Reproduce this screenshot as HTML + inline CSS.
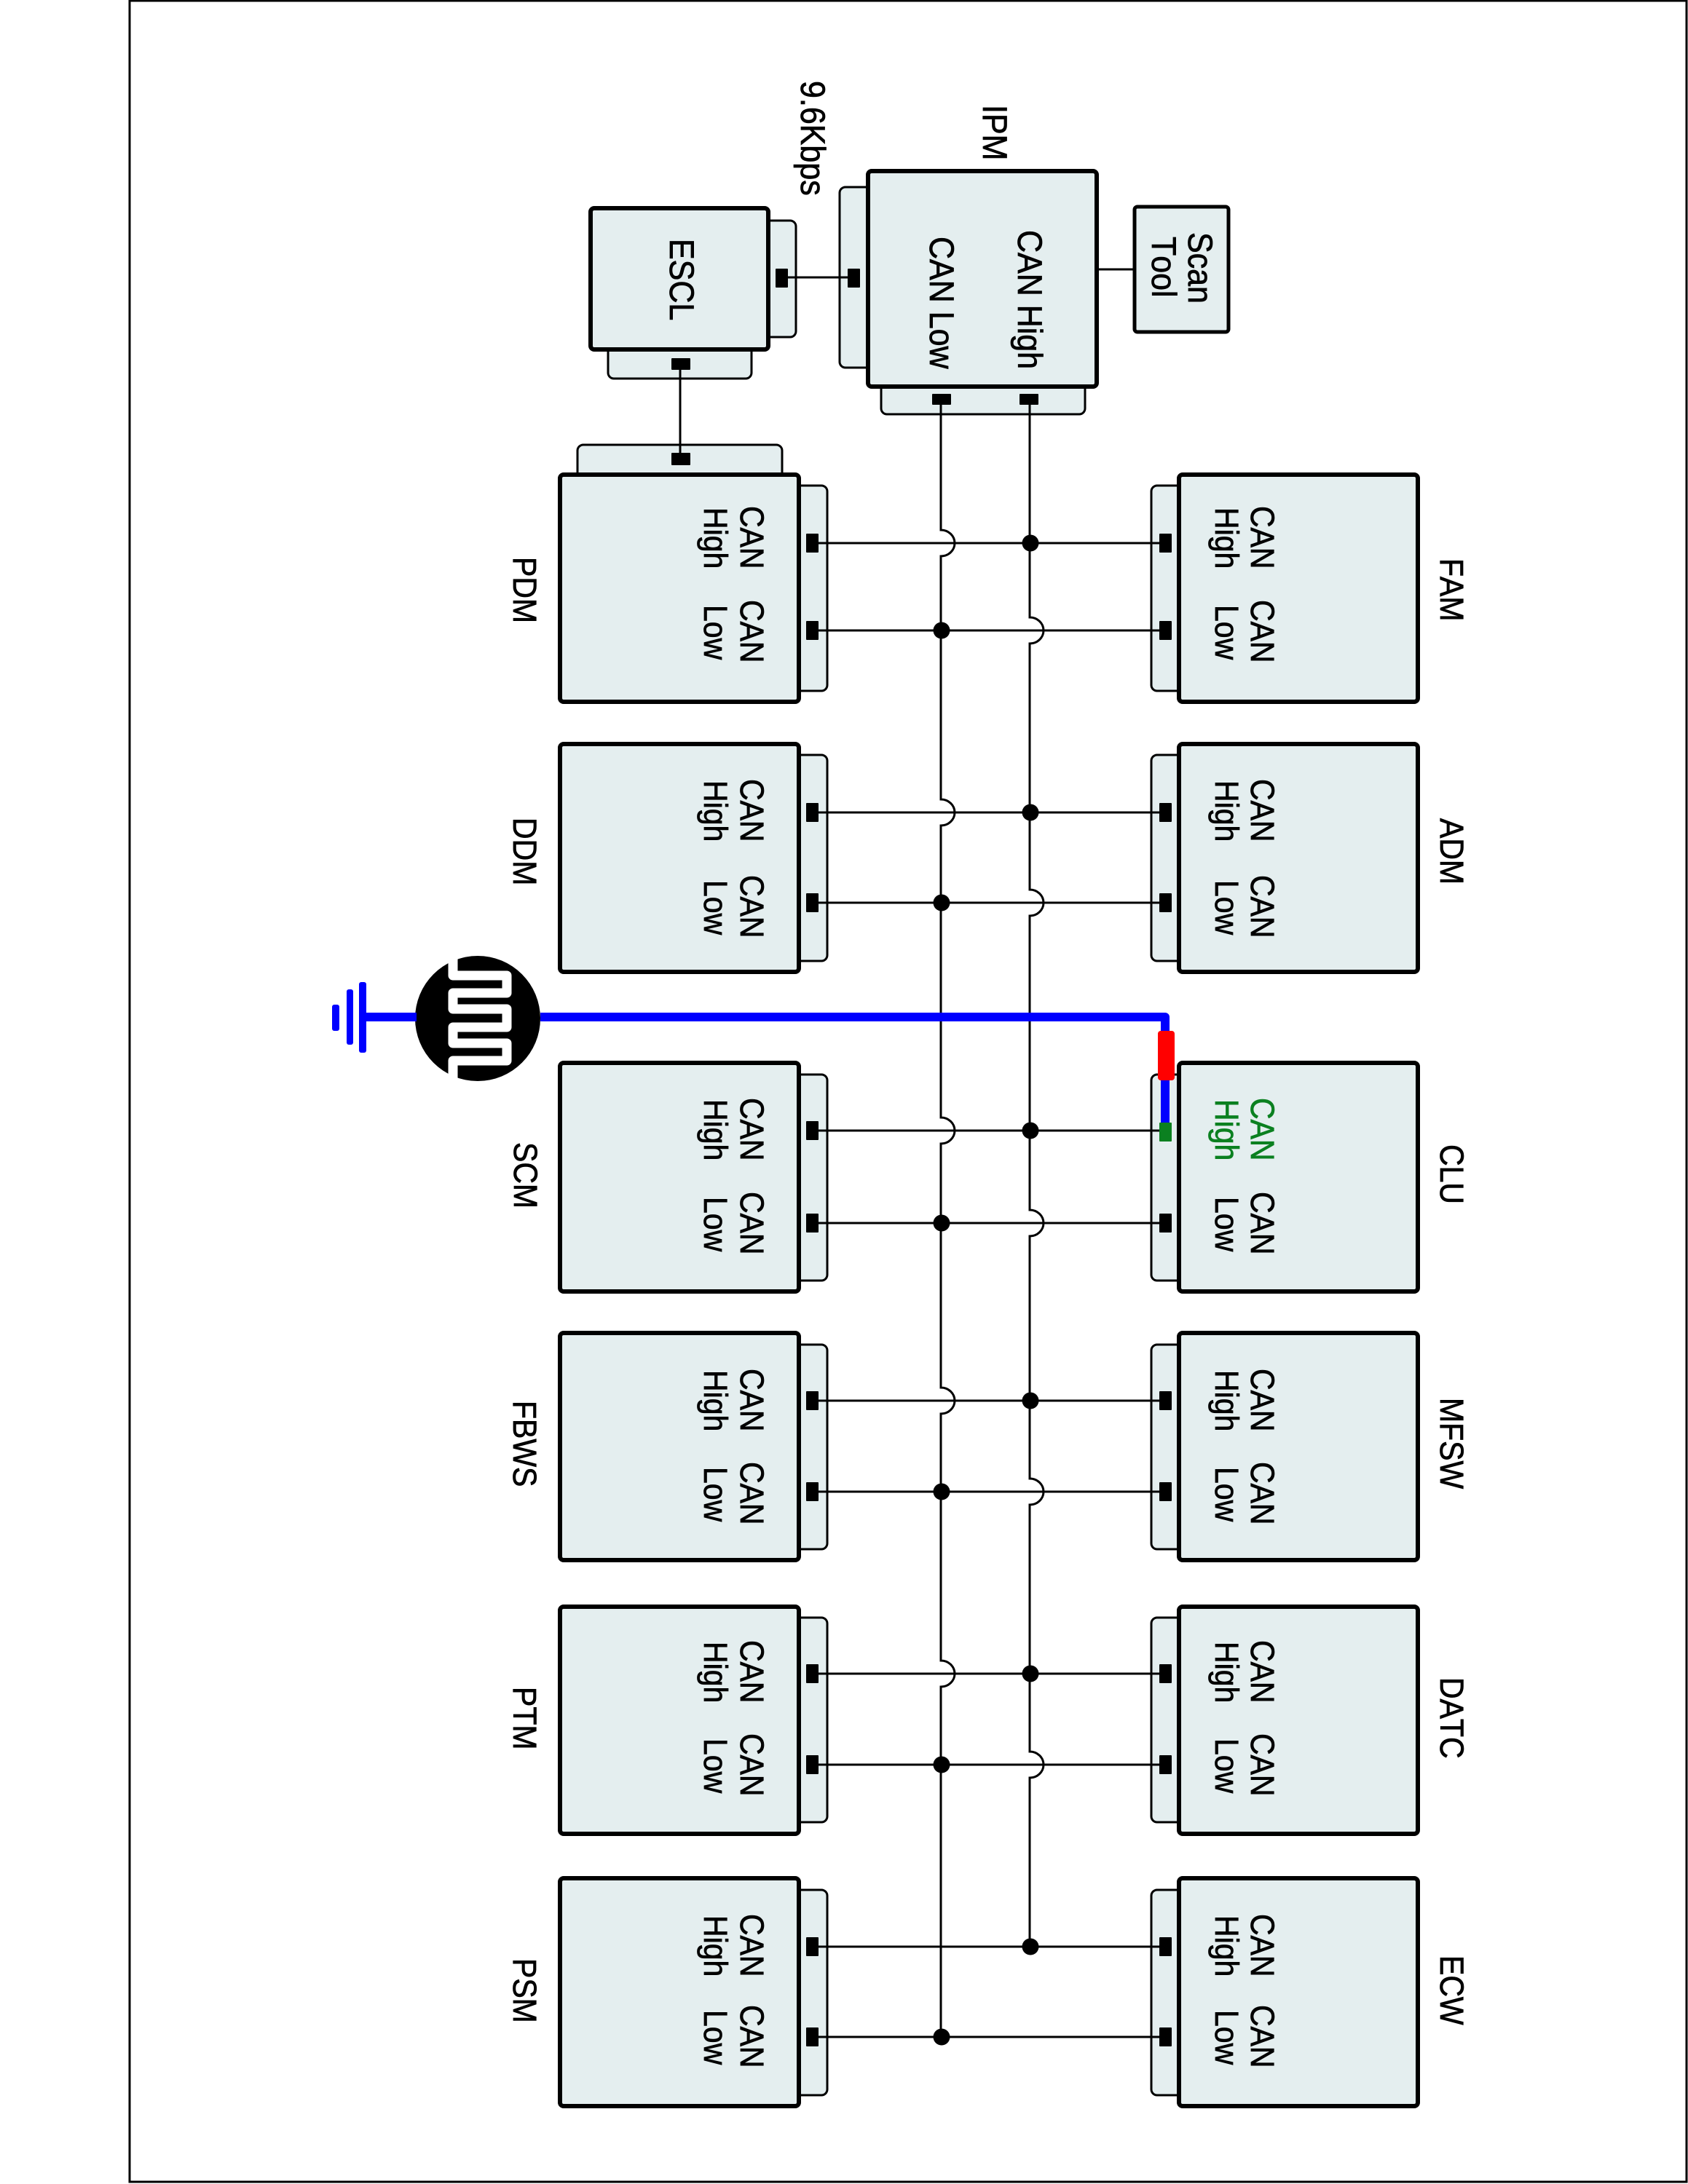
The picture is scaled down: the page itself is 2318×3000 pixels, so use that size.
<!DOCTYPE html>
<html><head><meta charset="utf-8"><title>CAN diagram</title>
<style>
html,body{margin:0;padding:0;background:#fff}
svg{display:block}
text{font-family:"Liberation Sans",sans-serif;font-size:41px;fill:#000;stroke:#000;stroke-width:.7;font-kerning:none}
.b{font-size:43px}
.m{fill:#e4eeef;stroke:#000;stroke-width:6}
.tab{fill:#e4eeef;stroke:#000;stroke-width:3}
.w{fill:none;stroke:#000;stroke-width:3}
.g{fill:#0b8020;stroke:#0b8020}
</style></head><body>
<svg width="2318" height="3000" viewBox="0 0 2318 3000" xmlns="http://www.w3.org/2000/svg">
<rect x="0" y="0" width="2318" height="3000" fill="#fff"/>
<rect x="178" y="1" width="2138" height="2996" fill="none" stroke="#000" stroke-width="3"/>

<!-- tabs -->
<rect class="tab" x="793" y="611" width="281" height="60" rx="8"/>
<rect class="tab" x="1030" y="303" width="63" height="160" rx="8"/>
<rect class="tab" x="835" y="440" width="197" height="80" rx="8"/>
<rect class="tab" x="1153" y="257" width="60" height="248" rx="8"/>
<rect class="tab" x="1210" y="500" width="280" height="69" rx="8"/>

<rect class="tab" x="1060" y="667" width="76" height="282" rx="8"/><rect class="tab" x="1581" y="667" width="76" height="282" rx="8"/>
<rect class="tab" x="1060" y="1037" width="76" height="283" rx="8"/><rect class="tab" x="1581" y="1037" width="76" height="283" rx="8"/>
<rect class="tab" x="1060" y="1476" width="76" height="283" rx="8"/><rect class="tab" x="1581" y="1476" width="76" height="283" rx="8"/>
<rect class="tab" x="1060" y="1847" width="76" height="281" rx="8"/><rect class="tab" x="1581" y="1847" width="76" height="281" rx="8"/>
<rect class="tab" x="1060" y="2222" width="76" height="281" rx="8"/><rect class="tab" x="1581" y="2222" width="76" height="281" rx="8"/>
<rect class="tab" x="1060" y="2596" width="76" height="282" rx="8"/><rect class="tab" x="1581" y="2596" width="76" height="282" rx="8"/>

<!-- modules -->
<rect class="m" x="811" y="286" width="244" height="194" rx="5"/>
<rect class="m" x="1192" y="235" width="314" height="296" rx="5"/>
<rect class="m" x="1558" y="284" width="129" height="172" rx="4" style="stroke-width:5"/>

<rect class="m" x="769" y="652" width="328" height="312" rx="5"/><rect class="m" x="1619" y="652" width="328" height="312" rx="5"/>
<rect class="m" x="769" y="1022" width="328" height="313" rx="5"/><rect class="m" x="1619" y="1022" width="328" height="313" rx="5"/>
<rect class="m" x="769" y="1460" width="328" height="314" rx="5"/><rect class="m" x="1619" y="1460" width="328" height="314" rx="5"/>
<rect class="m" x="769" y="1831" width="328" height="312" rx="5"/><rect class="m" x="1619" y="1831" width="328" height="312" rx="5"/>
<rect class="m" x="769" y="2207" width="328" height="312" rx="5"/><rect class="m" x="1619" y="2207" width="328" height="312" rx="5"/>
<rect class="m" x="769" y="2580" width="328" height="313" rx="5"/><rect class="m" x="1619" y="2580" width="328" height="313" rx="5"/>

<!-- buses -->
<path class="w" d="M1292 556V728A19 18 0 0 1 1292 764V1098A19 18 0 0 1 1292 1134V1535A19 18 0 0 1 1292 1571V1906A19 18 0 0 1 1292 1942V2281A19 18 0 0 1 1292 2317V2798"/>
<path class="w" d="M1414 556V848A19 18 0 0 1 1414 884V1222A19 18 0 0 1 1414 1258V1662A19 18 0 0 1 1414 1698V2031A19 18 0 0 1 1414 2067V2406A19 18 0 0 1 1414 2442V2674"/>

<!-- horizontal wires -->
<path class="w" d="M1124 746H1592M1124 866H1592M1124 1116H1592M1124 1240H1592M1124 1553H1592M1124 1680H1592M1124 1924H1592M1124 2049H1592M1124 2299H1592M1124 2424H1592M1124 2674H1592M1124 2798H1592"/>
<path class="w" d="M934 508V625M1081 381H1164M1506 370H1558"/>

<!-- connectors -->
<g fill="#000">
<rect x="1065" y="369" width="17" height="26" rx="1"/><rect x="1164" y="369" width="17" height="26" rx="1"/>
<rect x="922" y="492" width="26" height="16" rx="1"/><rect x="922" y="622" width="26" height="17" rx="1"/>
<rect x="1280" y="541" width="26" height="15" rx="1"/><rect x="1400" y="541" width="26" height="15" rx="1"/>
<rect x="1107" y="733" width="17" height="26" rx="1"/><rect x="1592" y="733" width="17" height="26" rx="1"/>
<rect x="1107" y="853" width="17" height="26" rx="1"/><rect x="1592" y="853" width="17" height="26" rx="1"/>
<rect x="1107" y="1103" width="17" height="26" rx="1"/><rect x="1592" y="1103" width="17" height="26" rx="1"/>
<rect x="1107" y="1227" width="17" height="26" rx="1"/><rect x="1592" y="1227" width="17" height="26" rx="1"/>
<rect x="1107" y="1540" width="17" height="26" rx="1"/>
<rect x="1107" y="1667" width="17" height="26" rx="1"/><rect x="1592" y="1667" width="17" height="26" rx="1"/>
<rect x="1107" y="1911" width="17" height="26" rx="1"/><rect x="1592" y="1911" width="17" height="26" rx="1"/>
<rect x="1107" y="2036" width="17" height="26" rx="1"/><rect x="1592" y="2036" width="17" height="26" rx="1"/>
<rect x="1107" y="2286" width="17" height="26" rx="1"/><rect x="1592" y="2286" width="17" height="26" rx="1"/>
<rect x="1107" y="2411" width="17" height="26" rx="1"/><rect x="1592" y="2411" width="17" height="26" rx="1"/>
<rect x="1107" y="2661" width="17" height="26" rx="1"/><rect x="1592" y="2661" width="17" height="26" rx="1"/>
<rect x="1107" y="2785" width="17" height="26" rx="1"/><rect x="1592" y="2785" width="17" height="26" rx="1"/>
<!-- junction dots -->
<circle cx="1415" cy="746" r="11.5"/><circle cx="1293" cy="866" r="11.5"/>
<circle cx="1415" cy="1116" r="11.5"/><circle cx="1293" cy="1240" r="11.5"/>
<circle cx="1415" cy="1553" r="11.5"/><circle cx="1293" cy="1680" r="11.5"/>
<circle cx="1415" cy="1924" r="11.5"/><circle cx="1293" cy="2049" r="11.5"/>
<circle cx="1415" cy="2299" r="11.5"/><circle cx="1293" cy="2424" r="11.5"/>
<circle cx="1415" cy="2674" r="11.5"/><circle cx="1293" cy="2798" r="11.5"/>
</g>

<!-- sensor and blue wire -->
<circle cx="656" cy="1399" r="86" fill="#000"/>
<path d="M622 1316V1340H696V1364H622V1386H696V1411H622V1433H696V1457H622V1484" fill="none" stroke="#fff" stroke-width="13" stroke-linejoin="round"/>
<path d="M742 1397H1600V1542" fill="none" stroke="#0000ff" stroke-width="12" stroke-linejoin="round"/>
<path d="M572 1397H498" fill="none" stroke="#0000ff" stroke-width="12"/>
<rect x="493" y="1349" width="10" height="97" rx="3" fill="#0000ff"/>
<rect x="476" y="1359" width="9" height="76" rx="3" fill="#0000ff"/>
<rect x="456" y="1380" width="10" height="36" rx="3" fill="#0000ff"/>
<rect x="1590" y="1416" width="23" height="68" rx="4" fill="#ff0000"/>
<rect x="1592" y="1542" width="17" height="26" rx="1" fill="#0b8020"/>

<g transform="translate(2 -2)">
<!-- top labels -->
<text class="b" transform="translate(1098 113) rotate(90) scale(1 1.11)">9.6Kbps</text>
<text class="b" transform="translate(1348 146) rotate(90) scale(1 1.11)">IPM</text>
<text class="b" transform="translate(918 330) rotate(90) scale(1 1.11)">ESCL</text>
<text class="b" transform="translate(1396 318) rotate(90) scale(1 1.11)">CAN High</text>
<text class="b" transform="translate(1275 327) rotate(90) scale(1 1.11)">CAN Low</text>
<text class="b" transform="translate(1630 321) rotate(90) scale(1 1.11)">Scan</text>
<text class="b" transform="translate(1580 327) rotate(90) scale(1 1.11)">Tool</text>

<!-- row 1 -->
<text transform="translate(703 767) rotate(90) scale(1 1.11)">PDM</text>
<text transform="translate(1976 769) rotate(90) scale(1 1.11)">FAM</text>
<text transform="translate(1015 697) rotate(90) scale(1 1.11)">CAN</text><text transform="translate(965 699) rotate(90) scale(1 1.11)">High</text>
<text transform="translate(1015 826) rotate(90) scale(1 1.11)">CAN</text><text transform="translate(965 833) rotate(90) scale(1 1.11)">Low</text>
<text transform="translate(1716 697) rotate(90) scale(1 1.11)">CAN</text><text transform="translate(1667 699) rotate(90) scale(1 1.11)">High</text>
<text transform="translate(1716 826) rotate(90) scale(1 1.11)">CAN</text><text transform="translate(1667 833) rotate(90) scale(1 1.11)">Low</text>

<!-- row 2 -->
<text transform="translate(703 1125) rotate(90) scale(1 1.11)">DDM</text>
<text transform="translate(1976 1126) rotate(90) scale(1 1.11)">ADM</text>
<text transform="translate(1015 1072) rotate(90) scale(1 1.11)">CAN</text><text transform="translate(965 1074) rotate(90) scale(1 1.11)">High</text>
<text transform="translate(1015 1204) rotate(90) scale(1 1.11)">CAN</text><text transform="translate(965 1211) rotate(90) scale(1 1.11)">Low</text>
<text transform="translate(1716 1072) rotate(90) scale(1 1.11)">CAN</text><text transform="translate(1667 1074) rotate(90) scale(1 1.11)">High</text>
<text transform="translate(1716 1204) rotate(90) scale(1 1.11)">CAN</text><text transform="translate(1667 1211) rotate(90) scale(1 1.11)">Low</text>

<!-- row 3 -->
<text transform="translate(704 1571) rotate(90) scale(1 1.11)">SCM</text>
<text transform="translate(1976 1574) rotate(90) scale(1 1.11)">CLU</text>
<text transform="translate(1015 1510) rotate(90) scale(1 1.11)">CAN</text><text transform="translate(965 1512) rotate(90) scale(1 1.11)">High</text>
<text transform="translate(1015 1639) rotate(90) scale(1 1.11)">CAN</text><text transform="translate(965 1646) rotate(90) scale(1 1.11)">Low</text>
<text class="g" transform="translate(1716 1510) rotate(90) scale(1 1.11)">CAN</text><text class="g" transform="translate(1667 1512) rotate(90) scale(1 1.11)">High</text>
<text transform="translate(1716 1639) rotate(90) scale(1 1.11)">CAN</text><text transform="translate(1667 1646) rotate(90) scale(1 1.11)">Low</text>

<!-- row 4 -->
<text transform="translate(703 1926) rotate(90) scale(1 1.11)">FBWS</text>
<text transform="translate(1976 1922) rotate(90) scale(1 1.11)">MFSW</text>
<text transform="translate(1015 1882) rotate(90) scale(1 1.11)">CAN</text><text transform="translate(965 1884) rotate(90) scale(1 1.11)">High</text>
<text transform="translate(1015 2010) rotate(90) scale(1 1.11)">CAN</text><text transform="translate(965 2017) rotate(90) scale(1 1.11)">Low</text>
<text transform="translate(1716 1882) rotate(90) scale(1 1.11)">CAN</text><text transform="translate(1667 1884) rotate(90) scale(1 1.11)">High</text>
<text transform="translate(1716 2010) rotate(90) scale(1 1.11)">CAN</text><text transform="translate(1667 2017) rotate(90) scale(1 1.11)">Low</text>

<!-- row 5 -->
<text transform="translate(703 2319) rotate(90) scale(1 1.11)">PTM</text>
<text transform="translate(1976 2306) rotate(90) scale(1 1.11)">DATC</text>
<text transform="translate(1015 2255) rotate(90) scale(1 1.11)">CAN</text><text transform="translate(965 2257) rotate(90) scale(1 1.11)">High</text>
<text transform="translate(1015 2383) rotate(90) scale(1 1.11)">CAN</text><text transform="translate(965 2390) rotate(90) scale(1 1.11)">Low</text>
<text transform="translate(1716 2255) rotate(90) scale(1 1.11)">CAN</text><text transform="translate(1667 2257) rotate(90) scale(1 1.11)">High</text>
<text transform="translate(1716 2383) rotate(90) scale(1 1.11)">CAN</text><text transform="translate(1667 2390) rotate(90) scale(1 1.11)">Low</text>

<!-- row 6 -->
<text transform="translate(703 2692) rotate(90) scale(1 1.11)">PSM</text>
<text transform="translate(1976 2688) rotate(90) scale(1 1.11)">ECW</text>
<text transform="translate(1015 2631) rotate(90) scale(1 1.11)">CAN</text><text transform="translate(965 2633) rotate(90) scale(1 1.11)">High</text>
<text transform="translate(1015 2756) rotate(90) scale(1 1.11)">CAN</text><text transform="translate(965 2763) rotate(90) scale(1 1.11)">Low</text>
<text transform="translate(1716 2631) rotate(90) scale(1 1.11)">CAN</text><text transform="translate(1667 2633) rotate(90) scale(1 1.11)">High</text>
<text transform="translate(1716 2756) rotate(90) scale(1 1.11)">CAN</text><text transform="translate(1667 2763) rotate(90) scale(1 1.11)">Low</text>
</g>
</svg>
</body></html>
